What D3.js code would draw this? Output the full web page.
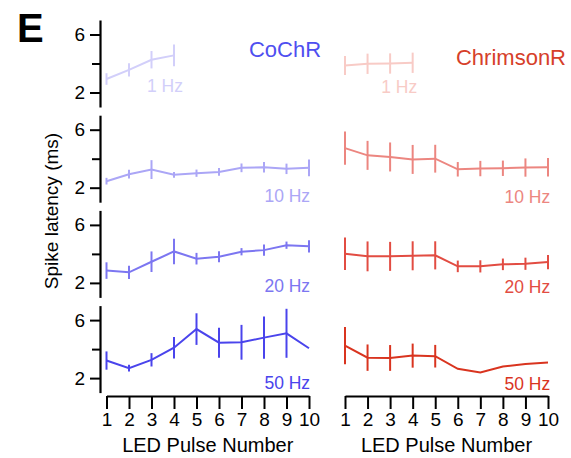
<!DOCTYPE html>
<html>
<head>
<meta charset="utf-8">
<script src="https://cdn.jsdelivr.net/npm/d3@7"></script>
<style>
  body { margin: 0; background: #fff; }
  text { font-family: "Liberation Sans", Arial, sans-serif; }
</style>
</head>
<body>
<div id="vis"></div>
<script>
const WIDTH = 571;
const HEIGHT = 458;

const PULSES = [1, 2, 3, 4, 5, 6, 7, 8, 9, 10];
const FREQS = ["1 Hz", "10 Hz", "20 Hz", "50 Hz"];
const Y_TICKS = [2, 4, 6];
const Y_TICK_LABELS = ["2", "", "6"];

// CoChR mean latency (ms) and error, one row per frequency
const COCHR_MEAN = [
  [2.93, 3.56, 4.26, 4.56],
  [2.45, 2.93, 3.25, 2.89, 3.00, 3.09, 3.37, 3.41, 3.30, 3.37],
  [2.85, 2.73, 3.46, 4.17, 3.67, 3.80, 4.15, 4.26, 4.60, 4.52],
  [3.21, 2.69, 3.26, 4.10, 5.38, 4.44, 4.47, 4.79, 5.09, 4.06]
];
const COCHR_ERR = [
  [0.40, 0.46, 0.60, 0.75],
  [0.23, 0.30, 0.65, 0.20, 0.25, 0.27, 0.30, 0.36, 0.36, 0.58],
  [0.57, 0.46, 0.71, 0.88, 0.40, 0.38, 0.25, 0.38, 0.25, 0.43],
  [0.63, 0.23, 0.46, 0.74, 1.09, 1.03, 1.20, 1.46, 1.69, 0]
];

// ChrimsonR mean latency (ms) and error
const CHRIM_MEAN = [
  [3.86, 3.98, 4.00, 4.05],
  [4.73, 4.23, 4.12, 3.95, 4.00, 3.27, 3.32, 3.34, 3.39, 3.41],
  [4.01, 3.83, 3.83, 3.87, 3.90, 3.14, 3.14, 3.28, 3.32, 3.44],
  [4.24, 3.41, 3.39, 3.55, 3.51, 2.64, 2.39, 2.80, 2.98, 3.07]
];
const CHRIM_ERR = [
  [0.66, 0.70, 0.70, 0.70],
  [1.14, 1.00, 1.00, 1.00, 0.96, 0.50, 0.53, 0.53, 0.63, 0.63],
  [1.12, 1.03, 1.00, 1.00, 0.97, 0.40, 0.42, 0.40, 0.42, 0.49],
  [1.29, 0.91, 0.89, 0.83, 0.78, 0, 0, 0, 0, 0]
];

const COCHR_COLORS = ["#d2cffa", "#aba6f6", "#7c76f1", "#4a44ec"];
const CHRIM_COLORS = ["#f8cbc6", "#ec8680", "#e24c42", "#d9341f"];

const SVG = d3.select("#vis").append("svg")
  .attr("width", WIDTH)
  .attr("height", HEIGHT);

const PANEL_TOP = 20;
const PANEL_STEP = 95.2;
const PANEL_H = 87;

const escalaXIzq = d3.scaleLinear().domain([1, 10]).range([106.5, 309]);
const escalaXDer = d3.scaleLinear().domain([1, 10]).range([345, 548]);

// label positions (baseline y, end position in pulse units)
const LABEL_Y = [92, 202, 292, 388.5];
const LABEL_PULSE_IZQ = [4.4, 10.05, 10.05, 10.05];
const LABEL_PULSE_DER = [4.2, 10.1, 10.1, 10.1];

FREQS.forEach((freq, i) => {
  const top = PANEL_TOP + i * PANEL_STEP;
  const escalaY = d3.scaleLinear().domain([1, 7]).range([top + PANEL_H, top]);

  // y axis only on the left
  const ejeY = d3.axisLeft(escalaY)
    .tickValues(Y_TICKS)
    .tickSize(10)
    .tickSizeOuter(0)
    .tickPadding(5)
    .tickFormat((d, k) => Y_TICK_LABELS[k]);

  const gEje = SVG.append("g")
    .attr("transform", "translate(100, 0)")
    .call(ejeY);
  gEje.select(".domain").attr("stroke-width", 2.2);
  gEje.selectAll(".tick line").attr("stroke-width", 2)
    .attr("x2", (d) => d == 4 ? -8 : -10);
  gEje.selectAll(".tick text")
    .style("font-size", "19px")
    .attr("fill", "#000");

  dibujarSerie(COCHR_MEAN[i], COCHR_ERR[i], escalaXIzq, escalaY, COCHR_COLORS[i]);
  dibujarSerie(CHRIM_MEAN[i], CHRIM_ERR[i], escalaXDer, escalaY, CHRIM_COLORS[i]);

  SVG.append("text")
    .attr("x", escalaXIzq(LABEL_PULSE_IZQ[i]))
    .attr("y", LABEL_Y[i])
    .attr("text-anchor", "end")
    .style("font-size", "17.5px")
    .attr("fill", COCHR_COLORS[i])
    .text(freq);

  SVG.append("text")
    .attr("x", escalaXDer(LABEL_PULSE_DER[i]))
    .attr("y", LABEL_Y[i] + 1)
    .attr("text-anchor", "end")
    .style("font-size", "17.5px")
    .attr("fill", CHRIM_COLORS[i])
    .text(freq);
});

function dibujarSerie(medias, errores, escalaX, escalaY, color) {
  const datos = medias.map((m, k) => ({ pulso: PULSES[k], media: m, error: errores[k] }));

  const linea = d3.line()
    .x(d => escalaX(d.pulso))
    .y(d => escalaY(d.media));

  const g = SVG.append("g");

  g.append("path")
    .datum(datos)
    .attr("d", linea)
    .attr("fill", "none")
    .attr("stroke", color)
    .attr("stroke-width", 2);

  g.selectAll(".err")
    .data(datos.filter(d => d.error > 0))
    .join("line")
    .attr("class", "err")
    .attr("x1", d => escalaX(d.pulso))
    .attr("x2", d => escalaX(d.pulso))
    .attr("y1", d => escalaY(d.media - d.error))
    .attr("y2", d => escalaY(d.media + d.error))
    .attr("stroke", color)
    .attr("stroke-width", 2);
}

// x axes
const X_AXIS_Y = 396;
[escalaXIzq, escalaXDer].forEach(escala => {
  const ejeX = d3.axisBottom(escala)
    .tickValues(PULSES)
    .tickSize(13)
    .tickSizeOuter(0)
    .tickPadding(4)
    .tickFormat(d3.format("d"));
  const g = SVG.append("g")
    .attr("transform", `translate(0, ${X_AXIS_Y})`)
    .call(ejeX);
  g.select(".domain").attr("stroke-width", 2.2);
  g.selectAll(".tick line").attr("stroke-width", 2);
  g.selectAll(".tick text")
    .style("font-size", "19px")
    .attr("fill", "#000");

  SVG.append("text")
    .attr("x", (escala.range()[0] + escala.range()[1]) / 2)
    .attr("y", 452)
    .attr("text-anchor", "middle")
    .style("font-size", "20px")
    .text("LED Pulse Number");
});

SVG.append("text")
  .attr("transform", "translate(58, 211) rotate(-90)")
  .attr("text-anchor", "middle")
  .style("font-size", "19px")
  .text("Spike latency (ms)");

SVG.append("text")
  .attr("x", 17)
  .attr("y", 42)
  .style("font-size", "40px")
  .style("font-weight", "bold")
  .text("E");

SVG.append("text")
  .attr("x", 285)
  .attr("y", 57)
  .attr("text-anchor", "middle")
  .style("font-size", "22px")
  .attr("fill", "#4f4ff0")
  .text("CoChR");

SVG.append("text")
  .attr("x", 511)
  .attr("y", 65)
  .attr("text-anchor", "middle")
  .style("font-size", "22px")
  .attr("fill", "#d6402a")
  .text("ChrimsonR");
</script>
</body>
</html>
